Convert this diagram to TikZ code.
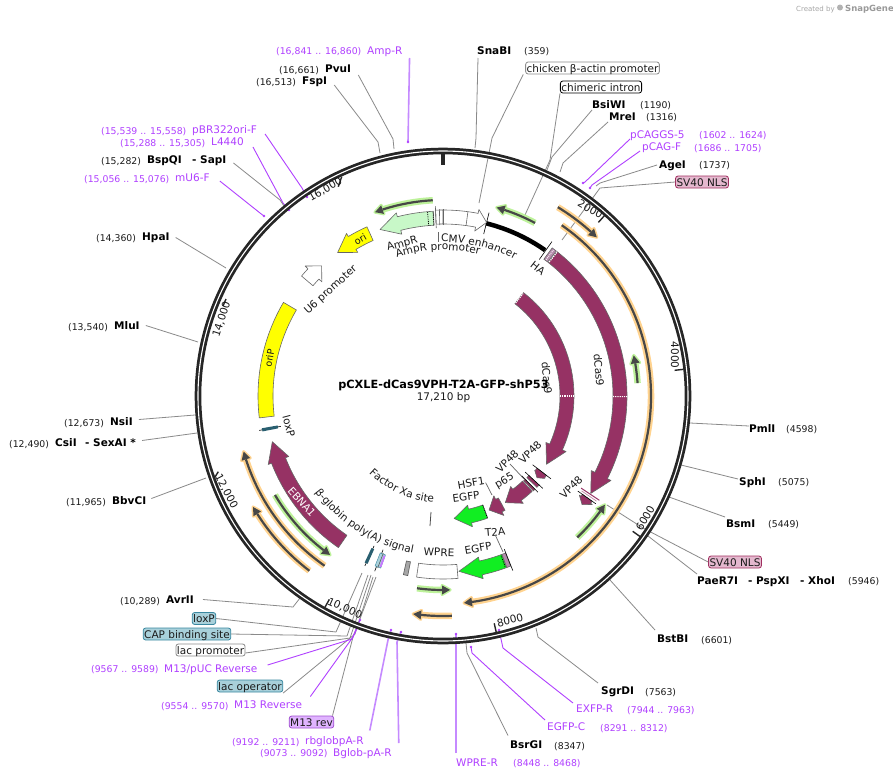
\documentclass[tikz,border=0pt]{standalone}
\usepackage{fontspec}
\setmainfont{DejaVu Sans}
\usetikzlibrary{decorations.text}
\definecolor{ink}{HTML}{1A1A1A}
\definecolor{ring}{HTML}{262626}
\definecolor{lead}{HTML}{8A8A8A}
\definecolor{primer}{HTML}{B040FF}
\definecolor{primerl}{HTML}{C58AFF}
\definecolor{wine}{HTML}{963264}
\definecolor{wineL}{HTML}{B58BAC}
\definecolor{lime}{HTML}{11EE22}
\definecolor{mint}{HTML}{C8F8C8}
\definecolor{yel}{HTML}{FFFF00}
\definecolor{halog}{HTML}{BDF29A}
\definecolor{haloo}{HTML}{FFD38F}
\definecolor{tealL}{HTML}{A8D0DA}
\definecolor{tealD}{HTML}{3A88A0}
\definecolor{pinkL}{HTML}{E4B8CE}
\definecolor{pinkD}{HTML}{A03060}
\definecolor{lilacL}{HTML}{E0B4FF}
\definecolor{lilacD}{HTML}{A050D0}
\newcommand{\szL}{\fontsize{10.5}{12}\selectfont}
\newcommand{\szN}{\fontsize{9.3}{12}\selectfont}
% text labels
\tikzset{
  txt/.style={inner sep=0pt,text height=8pt,text depth=0pt,font=\szL,text=ink},
  lab/.style={txt,anchor=west},
  bold/.style={lab,font=\szL\bfseries,text=black},
  num/.style={lab,font=\szN,text=ink},
  pri/.style={lab,text=primer},
  prin/.style={lab,font=\szN,text=primer},
  boxT/.style={txt,rounded corners=2.5pt,draw,line width=.8pt,inner xsep=1pt,inner ysep=2pt},
  leadline/.style={draw=lead,line width=.8pt},
  priline/.style={draw=primer,line width=.9pt},
  prilight/.style={draw=primerl,line width=1.6pt},
  feat/.style={draw=black!60,line width=.6pt},
  ticklab/.style={txt},
}
% \Lead{style}{start}{name}{elbow}{end}
\newcommand{\Lead}[5]{\coordinate (#3-a) at #4;\coordinate (#3-b) at #5;\draw[#1,line join=round] #2 -- (#3-a) -- (#3-b);}
\newcommand{\LeadS}[4]{\coordinate (#3-a) at #4;\draw[#1] #2 -- (#3-a);}
\newcommand{\Mark}[2]{\fill[#1] (#2) circle (1.4);}
% ring coordinates: theta clockwise from top
\newcommand{\ArcBox}[5]{\path[#1] ({#2-90}:{#4+#5}) arc[start angle={#2-90},end angle={#3-90},radius={#4+#5}] -- ({#3-90}:{#4-#5}) arc[start angle={#3-90},end angle={#2-90},radius={#4-#5}] -- cycle;}
% style, tail, base, tip, r, w, h
\newcommand{\ArcArrow}[7]{\path[#1,line join=round] ({#2-90}:{#5+#6}) arc[start angle={#2-90},end angle={#3-90},radius={#5+#6}] -- ({#3-90}:{#5+#7}) -- ({#4-90}:{#5}) -- ({#3-90}:{#5-#7}) -- ({#3-90}:{#5-#6}) arc[start angle={#3-90},end angle={#2-90},radius={#5-#6}] -- cycle;}
% radial line
\newcommand{\Rad}[4]{\draw[#1] ({#2-90}:#3) -- ({#2-90}:#4);}
% primer track: halo colour, from, to, r
\newcommand{\Track}[4]{%
  \pgfmathsetmacro{\dA}{((#3>#2)?1:-1)*8/#4*57.3}%
  \pgfmathsetmacro{\tB}{#3-\dA}%
  \draw[#1,line width=6.5pt] ({#2-90}:#4) arc[start angle={#2-90},end angle={\tB-90},radius=#4];
  \path[draw=#1,fill=#1,line width=3pt,line join=round] ({\tB-90}:{#4+4.5}) -- ({#3-90}:#4) -- ({\tB-90}:{#4-4.5}) -- cycle;
  \draw[black!72,line width=2.2pt] ({#2-90}:#4) arc[start angle={#2-90},end angle={\tB-90},radius=#4];
  \fill[black!72] ({\tB-90}:{#4+4.5}) -- ({#3-90}:#4) -- ({\tB-90}:{#4-4.5}) -- cycle;
}
\newcommand{\Along}[4]{\path[decorate,decoration={text along path,text={|\szL\color{ink}|#4},text align=center}] ({#1-90}:#3) arc[start angle={#1-90},end angle={#2-90},radius=#3];}
\begin{document}
\begin{tikzpicture}[x=1pt,y=-1pt]
\useasboundingbox (0,0) rectangle (893,779);
\fill[white] (0,0) rectangle (893,779);
% ---- attribution
\node[lab,font=\fontsize{7}{8}\selectfont,text=black!35] (credit) at (796,7.5) {Created by};
\fill[black!30] (840,7.5) circle (3);
\node[lab,font=\fontsize{8.5}{9}\selectfont\bfseries,text=black!40] (sg) at (845,7.5) {SnapGene};
% ---- outer labels
\node[prin] (n1) at (276,50.5) {(16,841 .. 16,860)};
\node[pri] (ampr) at (367,50) {Amp-R};
\node[num] (n2) at (279,69) {(16,661)};
\node[bold] (pvui) at (325,68) {PvuI};
\node[num] (n3) at (256,81) {(16,513)};
\node[bold] (fspi) at (302,80) {FspI};
\node[prin] (n4) at (101,130) {(15,539 .. 15,558)};
\node[pri] (pbr) at (192,129) {pBR322ori-F};
\node[prin] (n5) at (120,142) {(15,288 .. 15,305)};
\node[pri] (l4440) at (211,141) {L4440};
\node[num] (n6) at (101,160) {(15,282)};
\node[bold] (bspq) at (147,159) {BspQI};
\node[bold] (sapi) at (192,159) {- SapI};
\node[prin] (n7) at (84,178) {(15,056 .. 15,076)};
\node[pri] (mu6) at (175,177) {mU6-F};
\node[num] (n8) at (96,237) {(14,360)};
\node[bold] (hpai) at (142,236.5) {HpaI};
\node[num] (n9) at (68,326) {(13,540)};
\node[bold] (mlui) at (114,325.5) {MluI};
\node[num] (n10) at (64,422) {(12,673)};
\node[bold] (nsii) at (110,421.5) {NsiI};
\node[num] (n11) at (9,443) {(12,490)};
\node[bold] (csii) at (55,442.5) {CsiI};
\node[bold] (sexa) at (85,442.5) {- SexAI *};
\node[num] (n12) at (66,501) {(11,965)};
\node[bold] (bbvc) at (112,500.5) {BbvCI};
\node[num] (n13) at (120,600) {(10,289)};
\node[bold] (avrii) at (166,599.5) {AvrII};
\node[boxT,draw=tealD,fill=tealL] (loxb) at (204,618.5) {loxP};
\node[boxT,draw=tealD,fill=tealL] (capb) at (187,634) {CAP binding site};
\node[boxT,draw=black!45,fill=white] (lacp) at (210.5,650) {lac promoter};
\node[prin] (n14) at (91,668.5) {(9567 .. 9589)};
\node[pri] (m13p) at (164,668) {M13/pUC Reverse};
\node[boxT,draw=tealD,fill=tealL] (laco) at (250,686) {lac operator};
\node[prin] (n15) at (161,705) {(9554 .. 9570)};
\node[pri] (m13r) at (234,704.5) {M13 Reverse};
\node[boxT,draw=lilacD,fill=lilacL] (m13b) at (311.5,722) {M13 rev};
\node[prin] (n16) at (232,741) {(9192 .. 9211)};
\node[pri] (rbg) at (305,740.5) {rbglobpA-R};
\node[prin] (n17) at (260,752.5) {(9073 .. 9092)};
\node[pri] (bgl) at (333,752) {Bglob-pA-R};
\node[pri] (wprer) at (456,762) {WPRE-R};
\node[prin] (n18) at (513,762.5) {(8448 .. 8468)};
\node[bold] (bsrg) at (510,744.5) {BsrGI};
\node[num] (n19) at (554,745) {(8347)};
\node[pri] (egfpc) at (547,726) {EGFP-C};
\node[prin] (n20) at (600,727) {(8291 .. 8312)};
\node[pri] (exfp) at (576,708) {EXFP-R};
\node[prin] (n21) at (627,709) {(7944 .. 7963)};
\node[bold] (sgrd) at (601,690) {SgrDI};
\node[num] (n22) at (645,691) {(7563)};
\node[bold] (bstb) at (657,638) {BstBI};
\node[num] (n23) at (701,639) {(6601)};
\node[bold] (paer) at (697,580) {PaeR7I};
\node[bold] (pspx) at (748,580) {- PspXI};
\node[bold] (xhoi) at (800,580) {- XhoI};
\node[num] (n24) at (848,580.5) {(5946)};
\node[boxT,draw=pinkD,fill=pinkL] (sv2) at (735,562) {SV40 NLS};
\node[bold] (bsmi) at (726,523) {BsmI};
\node[num] (n25) at (768,523.5) {(5449)};
\node[bold] (sphi) at (739,481) {SphI};
\node[num] (n26) at (778,481.5) {(5075)};
\node[bold] (pmli) at (749,428) {PmlI};
\node[num] (n27) at (786,428.5) {(4598)};
\node[bold] (snab) at (477,50) {SnaBI};
\node[num] (n28) at (524,50.5) {(359)};
\node[boxT,draw=black!45,fill=white] (cba) at (592.5,68) {chicken β-actin promoter};
\node[boxT,draw=black,fill=white] (chim) at (601,87) {chimeric intron};
\node[bold] (bsiw) at (592,104) {BsiWI};
\node[num] (n29) at (640,104.5) {(1190)};
\node[bold] (mrei) at (609,116) {MreI};
\node[num] (n30) at (646,116.5) {(1316)};
\node[pri] (pcaggs) at (630,134) {pCAGGS-5};
\node[prin] (n31) at (699,134.5) {(1602 .. 1624)};
\node[pri] (pcag) at (642,146) {pCAG-F};
\node[prin] (n32) at (694,147) {(1686 .. 1705)};
\node[bold] (agei) at (659,164) {AgeI};
\node[num] (n33) at (699,164.5) {(1737)};
\node[boxT,draw=pinkD,fill=pinkL] (sv1) at (702,182) {SV40 NLS};
% ---- leaders
\LeadS{prilight}{([shift={(7,8)}]ampr.east)}{lAmp}{(408,142)}\Mark{primer}{lAmp-a}
\Lead{leadline}{([shift={(7,7)}]pvui.east)}{lPvu}{(393,139)}{(394,149)}
\Lead{leadline}{([shift={(7,5)}]fspi.east)}{lFsp}{(378,142)}{(380,153)}
\Lead{priline}{([shift={(8,5)}]pbr.east)}{lPbr}{(302,188)}{(307,197)}\Mark{primer}{lPbr-b}
\Lead{priline}{([shift={(9,6)}]l4440.east)}{lL44}{(283,203)}{(289,210)}\Mark{primer}{lL44-b}
\Lead{leadline}{([shift={(7,4)}]sapi.east)}{lBsp}{(280,200)}{(284,206)}
\Lead{priline}{([shift={(10,4)}]mu6.east)}{lMu6}{(260,213)}{(264,216)}\Mark{primer}{lMu6-b}
\LeadS{leadline}{([shift={(6,1)}]hpai.east)}{lHpa}{(226,268)}
\LeadS{leadline}{([shift={(6,0)}]mlui.east)}{lMlu}{(198,342)}
\LeadS{leadline}{([shift={(6,-2)}]nsii.east)}{lNsi}{(195,415)}
\LeadS{leadline}{([shift={(6,-2)}]sexa.east)}{lCsi}{(197,433)}
\LeadS{leadline}{([shift={(5,-2)}]bbvc.east)}{lBbv}{(206,478)}
\Lead{leadline}{([shift={(9,0)}]avrii.east)}{lAvr}{(293,607)}{(300,598)}
\Lead{leadline}{(loxb.east)}{lLox}{(336,632)}{(362,573)}
\Lead{leadline}{(capb.east)}{lCap}{(347,636)}{(368,575)}
\Lead{leadline}{([yshift=-3]lacp.east)}{lLacp}{(350,638)}{(371,575)}
\Lead{leadline}{([yshift=-7]laco.east)}{lLaco}{(355,634)}{(373,577)}
\Lead{leadline}{([xshift=21]m13b.north)}{lM13b}{(353,637)}{(376,577)}
\Lead{priline}{([shift={(10,-3)}]m13p.east)}{lM13p}{(352,639)}{(360,620)}\Mark{primer}{lM13p-b}
\Lead{priline}{([shift={(8,-8)}]m13r.east)}{lM13r}{(353,637)}{(359,624)}
\Lead{prilight}{([shift={(6,-10)}]rbg.east)}{lRbg}{(388,640)}{(391,630)}\Mark{primer}{lRbg-b}
\Lead{prilight}{([shift={(7,-9)}]bgl.east)}{lBgl}{(397,642)}{(401,632)}\Mark{primer}{lBgl-b}
\LeadS{prilight}{([shift={(0,-9)}]wprer.west)}{lWpre}{(456,634)}\Mark{primer}{lWpre-a}
\Lead{leadline}{([shift={(-2,-9)}]bsrg.west)}{lBsr}{(467,653)}{(466,643)}
\Lead{priline}{([shift={(-2,-6)}]egfpc.west)}{lEgc}{(472,653)}{(471,647)}\Mark{primer}{lEgc-b}
\Lead{priline}{([shift={(-3,-5)}]exfp.west)}{lExf}{(503,648)}{(499,630)}\Mark{primer}{lExf-b}
\Lead{leadline}{([shift={(-3,-7)}]sgrd.west)}{lSgr}{(538,637)}{(536,628)}
\LeadS{leadline}{([shift={(-2,-8)}]bstb.west)}{lBst}{(610,580)}
\LeadS{leadline}{([shift={(0,-6)}]paer.west)}{lPae}{(648,536)}
\Lead{leadline}{(sv2.west)}{lSv2}{(643,528)}{(607,505)}
\LeadS{leadline}{([shift={(-1,-6)}]bsmi.west)}{lBsm}{(669,497)}
\LeadS{leadline}{([shift={(-1,-2)}]sphi.west)}{lSph}{(681,465)}
\LeadS{leadline}{([shift={(0,-2)}]pmli.west)}{lPml}{(690,423)}
\Lead{leadline}{([shift={(1,8)}]snab.west)}{lSna}{(476,138)}{(475,148)}
\Lead{leadline}{([xshift=-2]cba.south west)}{lCba}{(492,138)}{(479,203)}
\Lead{leadline}{(chim.south west)}{lChi}{(550,160)}{(525,215)}
\Lead{leadline}{([shift={(0,6)}]bsiw.west)}{lBsi}{(552,157)}{(547,170)}
\Lead{leadline}{([shift={(-1,6)}]mrei.west)}{lMre}{(563,163)}{(560,172)}
\Lead{priline}{([shift={(0,5)}]pcaggs.west)}{lPcg}{(585,182)}{(583,183)}\Mark{primer}{lPcg-b}
\Lead{priline}{([shift={(-2,5)}]pcag.west)}{lPca}{(592,185)}{(590,188)}\Mark{primer}{lPca-b}
\Lead{leadline}{([shift={(-2,1)}]agei.west)}{lAge}{(600,183)}{(596,186)}
\Lead{leadline}{(sv1.west)}{lSv1}{(600,188)}{(562,240)}
% ---- everything in ring polar coordinates
\begin{scope}[shift={(443,396)}]
% ring
\draw[ring,line width=6.6pt] (0,0) circle (245);
\draw[white,line width=1.1pt] (0,0) circle (245);
% ticks
\Rad{ring,line width=3.5pt}{0}{242}{231}
\foreach \t in {41.83,83.67,125.5,167.3,209.2}{\Rad{ring,line width=1.4pt}{\t}{242}{233}}
% top: CMV / AmpR group
\draw[black,line width=4.5pt] ({14-90}:178) arc[start angle={14-90},end angle={35-90},radius=178];
\Rad{black,line width=.6pt}{14.1}{167}{189}
\Rad{black,line width=.6pt}{35.2}{167}{189}
\ArcArrow{feat,fill=mint}{-3}{-14.3}{-20.7}{178}{7}{11}
\ArcArrow{feat,fill=white}{0}{10.9}{14.1}{179}{7}{11}
\Rad{feat}{7.7}{172}{186}
\ArcBox{feat,fill=white}{-2.3}{0}{179}{7}
\Rad{feat}{-2.3}{168}{190}
\Rad{feat}{-1.1}{171}{187}
\Rad{feat}{0}{171}{187}
\Rad{black,line width=.8pt,densely dotted}{-4.8}{171}{185}
\Rad{black,line width=.8pt,densely dotted}{-3.1}{171}{185}
\ArcArrow{feat,fill=yel}{-24.2}{-30.7}{-36.3}{178}{7.5}{11}
\ArcArrow{feat,fill=white}{-49.7}{-46.7}{-43}{178}{7.5}{11.5}
\ArcBox{feat,fill=yel}{-59.6}{-96.8}{177.5}{7.5}
% dCas9 outer with HA
\ArcArrow{feat,fill=wine}{38.3}{116.7}{123.4}{177}{7}{11}
\Rad{white,line width=1.2pt,densely dotted}{90.2}{170}{184}
\Rad{white,line width=1.2pt,densely dotted}{38.4}{171}{184}
\ArcBox{feat,fill=wineL}{36.4}{38}{177}{7}
\Rad{white,line width=.9pt,densely dotted}{37.1}{171}{183}
% dCas9 inner
\ArcArrow{feat,fill=wine}{37.9}{114.3}{123.4}{124}{7}{11}
\Rad{white,line width=1.2pt,densely dotted}{90}{117}{131}
\Rad{white,line width=1.2pt,densely dotted}{38}{118}{130}
% VP48 outer
\Rad{wine,line width=1pt}{123.7}{166}{188}
\Rad{wine!60,line width=.7pt}{124.4}{168}{186}
\ArcArrow{feat,fill=wine}{125.2}{126}{128}{176.5}{6}{8}
\Rad{black,line width=.6pt}{125.2}{165}{187}
% VP48 inner
\ArcArrow{feat,fill=wine}{127.5}{129}{131}{124.5}{6}{6.5}
\Rad{black,line width=.6pt}{127.5}{113}{136}
\ArcBox{feat,fill=wine}{132.8}{134.2}{124}{7}
\Rad{black,line width=.6pt}{132.8}{112}{136}
\ArcBox{feat,fill=wine}{135.4}{136.4}{124}{7}
\Rad{black,line width=.6pt}{135.4}{112}{135}
% p65
\ArcArrow{feat,fill=wine}{136.9}{143.2}{149.7}{123.5}{7}{10.5}
\ArcArrow{feat,fill=wine}{151.5}{153}{158}{123}{7}{11}
% EGFP
\ArcArrow{feat,fill=lime}{159.9}{167.3}{174.8}{123}{7}{11}
\Rad{black,line width=.8pt,densely dotted}{160}{116}{130}
\ArcArrow{feat,fill=lime}{159.6}{167.6}{174.8}{176}{7}{11}
\Rad{black,line width=.8pt,densely dotted}{160}{170}{182}
\ArcBox{feat,fill=wineL}{158.3}{159.6}{176}{7}
\Rad{black,line width=.6pt}{158.2}{165}{188}
% WPRE and neighbours
\ArcBox{feat,fill=white}{175.3}{188.3}{176}{7}
\ArcBox{draw=black!65,line width=.6pt,fill=black!35}{191.1}{192.5}{176}{7}
\Rad{black,line width=.6pt}{201.3}{165}{188}
\ArcBox{draw=tealD,line width=.4pt,fill=tealL}{199.9}{201.8}{176}{7}
\ArcBox{fill=primer!70}{199.8}{200.4}{176}{6}
\Rad{black!70,line width=.5pt}{200.8}{168}{184}
\Rad{black,line width=.6pt}{204.7}{165}{187}
\ArcBox{fill=tealD!70!black}{204.2}{205.2}{176}{8}
% EBNA1
\ArcArrow{feat,fill=wine}{214.6}{248.6}{255}{176.7}{7.5}{11}
% loxP upper
\Rad{black,line width=.6pt}{259.4}{165}{187}
\ArcBox{fill=tealD!70!black}{258.9}{259.9}{176}{8}
% primer tracks
\Track{halog}{-3}{-20.3}{196}
\Track{halog}{28}{15.9}{196}
\Track{haloo}{31.3}{44.1}{221}
\Track{haloo}{34.8}{174.2}{208}
\Track{halog}{86.2}{78}{195}
\Track{halog}{136.5}{123.9}{195}
\Track{halog}{187.7}{177.9}{194}
\Track{haloo}{177.7}{187.8}{220}
\Track{halog}{239.5}{215.4}{195}
\Track{haloo}{214.9}{254.4}{207}
\Track{haloo}{217.4}{239.7}{220}
% curved labels
\Along{-21.5}{48.5}{154}{CMV enhancer}
\Along{-37}{33}{146}{AmpR promoter}
\Along{247}{177}{160}{β-globin poly(A) signal}
\Along{244}{165}{107}{Factor Xa site}
\end{scope}
% ---- slanted scale ticks on the left half
\draw[ring,line width=1.4pt] (215,477) -- (218.3,471.7);
\draw[ring,line width=1.4pt] (223,306) -- (226,299);
\draw[ring,line width=1.4pt] (338.3,186.7) -- (341.7,176.7);
% ---- tick labels
\node[ticklab] (t2k) at (590.5,209) [rotate=-30] {2000};
\node[ticklab] (t4k) at (675,355) [rotate=-90] {4000};
\node[ticklab] (t6k) at (645,518) [rotate=60] {6000};
\node[ticklab] (t8k) at (510,620) [rotate=14] {8000};
\node[ticklab] (t10k) at (345,608) [rotate=-24] {10,000};
\node[ticklab] (t12k) at (227,491) [rotate=-62] {12,000};
\node[ticklab] (t14k) at (221,319) [rotate=72] {14,000};
\node[ticklab] (t16k) at (325,189) [rotate=30] {16,000};
% ---- straight labels on features
\node[txt] (tampr) at (402,243) [rotate=15] {AmpR};
\node[txt,font=\fontsize{9.5}{11}\selectfont] (tori) at (360,239) [rotate=30] {ori};
\node[txt] (tu6) at (330,289) [rotate=42] {U6 promoter};
\node[txt,font=\fontsize{9.5}{11}\selectfont] (torip) at (269,358) [rotate=80] {oriP};
\node[txt] (tloxu) at (289,426) [rotate=-75] {loxP};
\node[txt,text=white] (tebna) at (302,502) [rotate=-48] {EBNA1};
\node[txt] (tha) at (538,268) [rotate=-38] {HA};
\node[txt] (tdc1) at (599,370) [rotate=-85] {dCas9};
\node[txt] (tdc2) at (547,378) [rotate=-85] {dCas9};
\node[txt] (tvp1) at (571,487) [rotate=45] {VP48};
\node[txt] (tvp2) at (530,452) [rotate=45] {VP48};
\node[txt] (tvp3) at (507,461) [rotate=45] {VP48};
\node[txt] (tp65) at (504,480) [rotate=30] {p65};
\node[txt] (thsf) at (471,483) [rotate=10] {HSF1};
\node[txt] (teg1) at (466,497) [rotate=8] {EGFP};
\node[txt] (tt2a) at (495,532) [rotate=5] {T2A};
\node[txt] (teg2) at (478,548) [rotate=10] {EGFP};
\node[txt] (twpre) at (439,552) [rotate=-2] {WPRE};
% short feature leaders
\LeadS{draw=black!60,line width=.7pt}{(tvp3.south)}{sV}{(525,480)}
\LeadS{draw=black!60,line width=.7pt}{([shift={(1,2)}]thsf.east)}{sH}{(492,495)}
\LeadS{draw=black!60,line width=.7pt}{([yshift=1]tt2a.south)}{sT}{(503,552)}
\coordinate (sF) at (430,526);
\draw[black!70,line width=.8pt] (431,512) -- (sF);
\draw[black!60,line width=.7pt] (438,232) -- (438,242);
% ---- centre
\node[txt,font=\fontsize{11.3}{13}\selectfont\bfseries,text=black] (title) at (443.5,384) {pCXLE-dCas9VPH-T2A-GFP-shP53};
\node[txt] (bp) at (443.5,396.5) {17,210 bp};
\end{tikzpicture}
\end{document}
